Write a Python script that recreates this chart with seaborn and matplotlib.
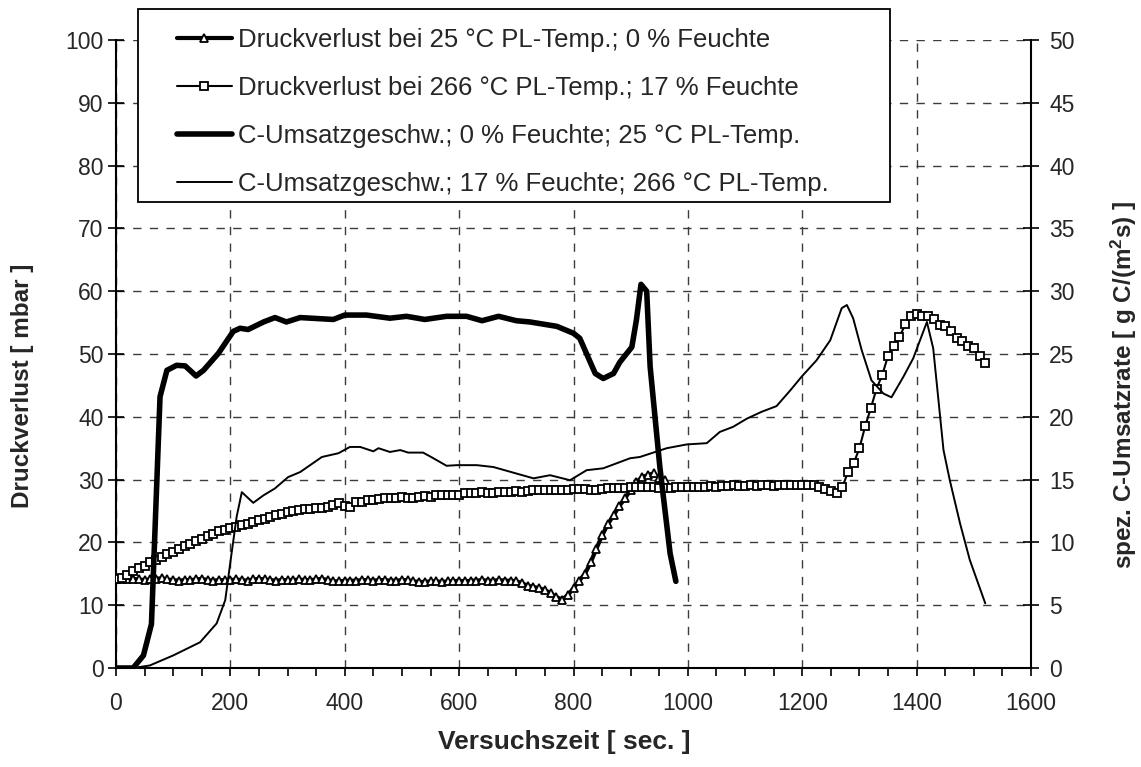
import numpy as np
import pandas as pd
import matplotlib
matplotlib.use("Agg")
import matplotlib.pyplot as plt
from matplotlib.ticker import MultipleLocator
from matplotlib.patches import Rectangle
import seaborn as sns

# Pressure loss, 25 °C, 0 % humidity (left axis, mbar), sampled every 10 s
t_dp25 = np.arange(0, 961, 10)
dp25 = [
    14.2, 14.2, 14.1, 14.2, 14.1, 14.0, 14.1, 14.2, 14.3, 14.1,
    14.0, 13.9, 14.0, 14.0, 14.1, 14.2, 14.0, 13.9, 14.0, 14.0,
    14.0, 14.1, 14.0, 13.9, 14.1, 14.2, 14.1, 14.0, 13.9, 14.0,
    14.0, 14.0, 14.1, 14.0, 14.0, 14.1, 14.2, 14.0, 13.8, 13.8,
    13.9, 13.9, 13.9, 14.0, 14.0, 13.9, 14.0, 14.0, 13.9, 13.9,
    14.0, 14.0, 13.8, 13.7, 13.7, 13.8, 13.8, 13.7, 13.8, 13.8,
    13.9, 13.8, 13.9, 13.9, 14.0, 13.9, 13.9, 14.0, 13.9, 13.9,
    13.8, 13.5, 13.1, 12.9, 12.7, 12.4, 11.9, 11.3, 10.9, 11.6,
    12.7, 13.9, 15.0, 16.8, 19.0, 21.1, 22.9, 24.3, 25.8, 27.0,
    28.4, 29.6, 30.4, 30.7, 31.0, 30.3, 29.9,
]

# Pressure loss, 266 °C, 17 % humidity (left axis, mbar), sampled every 10 s
t_dp266 = np.arange(0, 1521, 10)
dp266 = [
    14.2, 14.4, 14.8, 15.5, 15.9, 16.3, 16.8, 17.2, 17.6, 18.1,
    18.5, 19.0, 19.4, 19.8, 20.3, 20.6, 21.0, 21.4, 21.8, 22.0,
    22.3, 22.4, 22.7, 22.9, 23.2, 23.5, 23.8, 24.1, 24.3, 24.5,
    24.8, 25.0, 25.1, 25.3, 25.3, 25.4, 25.5, 25.6, 25.9, 26.2,
    25.8, 25.6, 26.4, 26.5, 26.7, 26.8, 26.9, 27.0, 27.1, 27.1,
    27.2, 27.1, 27.1, 27.3, 27.4, 27.2, 27.6, 27.5, 27.5, 27.5,
    27.5, 27.8, 27.8, 27.8, 28.0, 27.9, 27.9, 28.0, 28.0, 28.1,
    28.2, 28.0, 28.2, 28.3, 28.3, 28.3, 28.4, 28.4, 28.4, 28.4,
    28.5, 28.5, 28.5, 28.4, 28.4, 28.5, 28.6, 28.6, 28.6, 28.7,
    28.8, 28.8, 28.8, 28.8, 28.8, 28.7, 28.7, 28.7, 28.8, 28.8,
    28.8, 28.9, 28.9, 28.8, 29.0, 28.9, 29.0, 29.0, 29.1, 29.0,
    29.0, 29.1, 29.0, 29.1, 29.1, 29.0, 29.1, 29.2, 29.1, 29.2,
    29.1, 29.2, 29.2, 28.8, 28.5, 28.2, 27.8, 28.8, 31.2, 32.6,
    35.0, 38.5, 41.4, 44.5, 46.7, 49.7, 51.3, 52.7, 54.7, 56.0,
    56.3, 56.0, 56.0, 55.5, 54.6, 54.4, 53.7, 52.5, 52.1, 51.3,
    50.9, 49.7, 48.6,
]

# Specific carbon conversion rate, 0 % humidity, 25 °C (right axis, g C/(m²s))
t_c0 = [0, 30, 48, 62, 68, 77, 89, 106, 121, 140, 153, 179, 205, 217, 231,
        258, 278, 298, 322, 380, 400, 438, 479, 508, 540, 578, 613, 640, 669,
        700, 724, 771, 800, 811, 838, 852, 870, 881, 902, 910, 918, 928, 934,
        951, 969, 979]
c0 = [0.0, 0.0, 1.0, 3.5, 10.75, 21.6, 23.7, 24.1, 24.05, 23.25, 23.7, 25.05,
      26.8, 27.05, 26.95, 27.55, 27.9, 27.55, 27.9, 27.75, 28.1, 28.1, 27.85,
      28.0, 27.75, 28.0, 28.0, 27.65, 28.0, 27.65, 27.55, 27.2, 26.65, 26.25,
      23.45, 23.05, 23.45, 24.35, 25.55, 27.7, 30.55, 30.0, 24.0, 16.0, 9.1,
      6.9]

# Specific carbon conversion rate, 17 % humidity, 266 °C (right axis)
t_c17 = [0, 30, 59, 100, 147, 176, 191, 202, 211, 220, 240, 258, 278, 301,
         322, 360, 389, 409, 427, 450, 459, 479, 497, 511, 537, 555, 578, 596,
         631, 660, 695, 730, 759, 794, 823, 852, 899, 916, 963, 998, 1033,
         1056, 1079, 1103, 1129, 1155, 1179, 1199, 1225, 1249, 1269, 1278,
         1289, 1304, 1321, 1342, 1356, 1377, 1394, 1418, 1429, 1447, 1458,
         1476, 1493, 1520]
c17 = [0.0, 0.0, 0.2, 1.0, 2.05, 3.55, 5.4, 9.1, 12.05, 14.0, 13.15, 13.75,
       14.3, 15.2, 15.6, 16.8, 17.1, 17.6, 17.6, 17.25, 17.5, 17.2, 17.35,
       17.15, 17.15, 16.7, 16.1, 16.15, 16.15, 16.0, 15.55, 15.1, 15.35,
       14.95, 15.75, 15.9, 16.7, 16.8, 17.5, 17.8, 17.9, 18.8, 19.2, 19.85,
       20.4, 20.85, 22.1, 23.2, 24.5, 26.1, 28.65, 28.9, 27.85, 25.3, 22.9,
       21.85, 21.55, 23.2, 24.65, 27.55, 25.45, 17.35, 14.95, 11.5, 8.6, 5.15]

labels = [
    "Druckverlust bei 25 °C PL-Temp.; 0 % Feuchte",
    "Druckverlust bei 266 °C PL-Temp.; 17 % Feuchte",
    "C-Umsatzgeschw.; 0 % Feuchte; 25 °C PL-Temp.",
    "C-Umsatzgeschw.; 17 % Feuchte; 266 °C PL-Temp.",
]

sns.set_style("white")
plt.rcParams["font.family"] = ["Liberation Sans", "DejaVu Sans"]
plt.rcParams["mathtext.fontset"] = "custom"
plt.rcParams["mathtext.bf"] = "Liberation Sans:bold"
plt.rcParams["mathtext.rm"] = "Liberation Sans"

W, H = 1141, 767
fig = plt.figure(figsize=(W / 100, H / 100), dpi=100)
ax = fig.add_axes([116 / W, 1 - 668 / H, (1031 - 116) / W, (668 - 40) / H])
ax2 = ax.twinx()

grid_kw = dict(color="#3c3c3c", lw=1.0, ls=(0, (6, 6)))

# left axis: pressure loss
sns.lineplot(x=t_dp25, y=dp25, ax=ax, color="black", lw=3.0, marker="^",
             markersize=8, markerfacecolor="white", markeredgecolor="black",
             markeredgewidth=1.7, label=labels[0], legend=False, zorder=4)
sns.lineplot(x=t_dp266, y=dp266, ax=ax, color="black", lw=1.5, marker="s",
             markersize=7.5, markerfacecolor="white", markeredgecolor="black",
             markeredgewidth=1.8, label=labels[1], legend=False, zorder=4)

# right axis: conversion rate
sns.lineplot(x=t_c0, y=c0, ax=ax2, color="black", lw=4.0, label=labels[2],
             legend=False)
sns.lineplot(x=t_c17, y=c17, ax=ax2, color="black", lw=1.4, label=labels[3],
             legend=False)

ax.set_xlim(0, 1600)
ax.set_ylim(0, 100)
ax2.set_ylim(0, 50)
ax.xaxis.set_major_locator(MultipleLocator(200))
ax.xaxis.set_minor_locator(MultipleLocator(50))
ax.yaxis.set_major_locator(MultipleLocator(10))
ax2.yaxis.set_major_locator(MultipleLocator(5))

ax.grid(True, which="major", axis="both", **grid_kw)
ax.set_axisbelow(True)

for a in (ax, ax2):
    a.spines["top"].set_visible(False)
    for s in a.spines.values():
        s.set_linewidth(1.5)
        s.set_color("black")
ax.spines["right"].set_visible(False)
ax2.spines["left"].set_visible(False)
ax2.spines["bottom"].set_visible(False)

tick_fs = 16.5
ax.tick_params(axis="x", which="both", direction="out", length=6, width=1.2,
               color="black", bottom=True, labelsize=tick_fs, pad=11)
ax.tick_params(axis="y", which="major", direction="inout", length=12, width=1.2,
               color="black", left=True, labelsize=tick_fs, pad=3)
ax2.tick_params(axis="y", which="major", direction="inout", length=12, width=1.2,
                color="black", right=True, labelsize=tick_fs, pad=7)

ax.set_xlabel("Versuchszeit [ sec. ]", fontweight="bold", fontsize=19)
ax.set_ylabel("Druckverlust [ mbar ]", fontweight="bold", fontsize=17.5)
ax2.set_ylabel("spez. C-Umsatzrate [ g C/(m$\\mathbf{^2}$s) ]", fontweight="bold",
               fontsize=17.5)
for lab in (ax.xaxis.label, ax.yaxis.label, ax2.yaxis.label):
    lab.set_verticalalignment("center")
ax.xaxis.set_label_coords(0.49, (668 - 742) / 628)
ax.yaxis.set_label_coords((23 - 116) / 915, 0.45)
ax2.yaxis.set_label_coords((1124 - 116) / 915, 0.45)

# legend: white box with black border, entries stacked on the left
fig.patches.append(Rectangle((138 / W, 1 - 202 / H), 752 / W, 193 / H,
                             transform=fig.transFigure, facecolor="white",
                             edgecolor="black", lw=1.3, zorder=4))
h1, l1 = ax.get_legend_handles_labels()
h2, l2 = ax2.get_legend_handles_labels()
for h in h1:
    h.set_markersize(5.5)
    h.set_markeredgewidth(1.3)
leg = fig.legend(h1 + h2, l1 + l2, loc="upper left",
                 bbox_to_anchor=(177 / W, 1 - 28 / H),
                 bbox_transform=fig.transFigure, frameon=False, fontsize=18.5,
                 handlelength=2.14, handletextpad=0.23, labelspacing=0.93,
                 borderpad=0, borderaxespad=0)
leg.set_zorder(5)

fig.savefig("out.png", dpi=100)
